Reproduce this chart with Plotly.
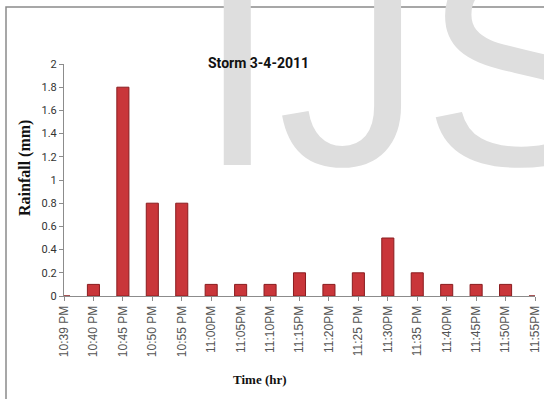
import plotly.graph_objects as go

# Rainfall record for the storm of 3-4-2011
times = ["10:39 PM", "10:40 PM", "10:45 PM", "10:50 PM", "10:55 PM", "11:00PM",
         "11:05PM", "11:10PM", "11:15PM", "11:20PM", "11:25 PM", "11:30PM",
         "11:35 PM", "11:40PM", "11:45PM", "11:50PM", "11:55PM"]
rainfall = [0, 0.1, 1.8, 0.8, 0.8, 0.1, 0.1, 0.1, 0.2, 0.1, 0.2, 0.5, 0.2, 0.1, 0.1, 0.1, 0]
y_ticks = [0, 0.2, 0.4, 0.6, 0.8, 1, 1.2, 1.4, 1.6, 1.8, 2]
y_tick_text = ["0", "0.2", "0.4", "0.6", "0.8", "1", "1.2", "1.4", "1.6", "1.8", "2"]

W, H = 544, 399
L, R, T, B = 64, 9, 64, 103
pw, ph = W - L - R, H - T - B


def px(x):
    return (x - L) / pw


def py(y):
    return (H - B - y) / ph


positions = list(range(len(times)))

fig = go.Figure()
fig.add_trace(go.Bar(
    x=positions, y=rainfall, width=0.41,
    marker=dict(color="#c9363a", line=dict(color="#8a1c1f", width=1)),
    showlegend=False,
))

axis_grey = "#8c8c8c"
fig.update_xaxes(
    range=[0, len(times) - 1], tickmode="array", tickvals=positions, ticktext=times,
    tickangle=-90, showline=True, linecolor=axis_grey, linewidth=1,
    ticks="outside", ticklen=4, tickcolor=axis_grey, showgrid=False, zeroline=False,
    tickfont=dict(family="Liberation Sans", size=12, color="#555555"),
)
fig.update_yaxes(
    range=[0, 2], tickmode="array", tickvals=y_ticks, ticktext=y_tick_text,
    showline=True, linecolor=axis_grey, linewidth=1,
    ticks="outside", ticklen=4, tickcolor=axis_grey, showgrid=False, zeroline=False,
    tickfont=dict(family="Roboto", size=11, color="#333333"),
)

annotations = [
    dict(text="IJS", x=px(406), y=py(227), xref="paper", yref="paper",
         xanchor="center", yanchor="bottom", showarrow=False, borderpad=0,
         font=dict(family="Liberation Sans", size=290, color="#dedede")),
    dict(text="<b>Storm 3-4-2011</b>", x=px(258), y=py(63), xref="paper", yref="paper",
         xanchor="center", yanchor="middle", showarrow=False,
         font=dict(family="Roboto", size=14, color="#111111")),
    dict(text="<b>Rainfall (mm)</b>", x=px(25), y=py(168), xref="paper", yref="paper",
         xanchor="center", yanchor="middle", showarrow=False, textangle=-90,
         font=dict(family="Liberation Serif", size=16, color="#111111")),
    dict(text="<b>Time (hr)</b>", x=px(260), y=py(379), xref="paper", yref="paper",
         xanchor="center", yanchor="middle", showarrow=False,
         font=dict(family="Liberation Serif", size=13, color="#111111")),
]

fig.update_layout(
    width=W, height=H,
    margin=dict(l=L, r=R, t=T, b=B, autoexpand=False),
    paper_bgcolor="white", plot_bgcolor="rgba(0,0,0,0)",
    annotations=annotations,
    shapes=[dict(type="rect", xref="paper", yref="paper",
                 x0=px(6), x1=px(580), y0=py(440), y1=py(7),
                 line=dict(color="#8a8a8a", width=1.5), layer="below")],
)

fig.write_html("out.html")
